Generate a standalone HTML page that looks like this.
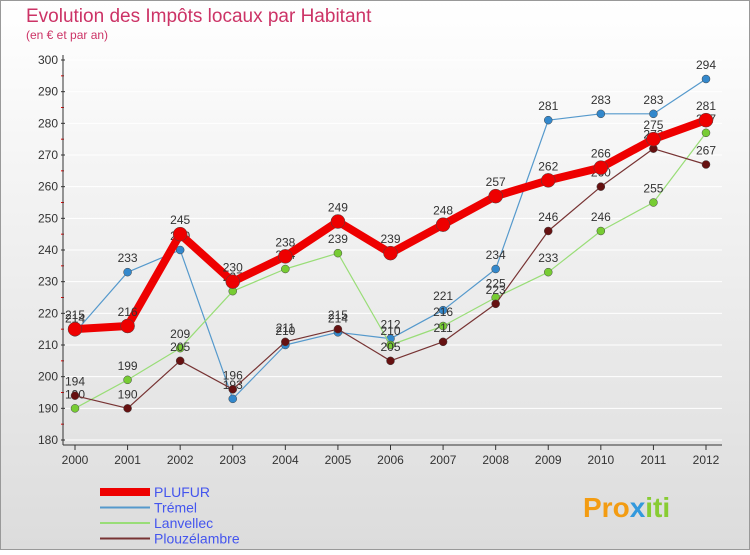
<!DOCTYPE html>
<html><head><meta charset="utf-8"><style>
body{margin:0;width:750px;height:550px;overflow:hidden;font-family:"Liberation Sans",sans-serif}
</style></head><body>
<svg width="750" height="550" xmlns="http://www.w3.org/2000/svg">
<defs><linearGradient id="bg" x1="0" y1="0" x2="0" y2="1"><stop offset="0" stop-color="#ffffff"/><stop offset="1" stop-color="#dcdcdc"/></linearGradient></defs>
<rect x="0.5" y="0.5" width="749" height="549" fill="url(#bg)" stroke="#999"/>
<text x="26" y="22" font-size="19" fill="#cc3366">Evolution des Impôts locaux par Habitant</text>
<text x="26" y="39" font-size="12" fill="#cc3366">(en € et par an)</text>
<g id="axes"></g><g id="series"></g><g id="legend"></g>
<text x="583" y="517" font-size="28" font-weight="bold" fill="#f39c12">Pro<tspan fill="#3399dd">x</tspan><tspan fill="#88cc33">iti</tspan></text>
</svg>
<script>
const years=["2000","2001","2002","2003","2004","2005","2006","2007","2008","2009","2010","2011","2012"];
const yTicks=[180,190,200,210,220,230,240,250,260,270,280,290,300];
const plufur=[215,216,245,230,238,249,239,248,257,262,266,275,281];
const tremel=[214,233,240,193,210,214,212,221,234,281,283,283,294];
const lanvellec=[190,199,209,227,234,239,210,216,225,233,246,255,277];
const plouz=[194,190,205,196,211,215,205,211,223,246,260,272,267];
const NS="http://www.w3.org/2000/svg";
const X=i=>75+i*(706-75)/12, Y=v=>440-(v-180)*(380/120);
function mk(t,a,p){const e=document.createElementNS(NS,t);for(const k in a)e.setAttribute(k,a[k]);p.appendChild(e);return e;}
const ax=document.getElementById('axes');
yTicks.forEach(v=>{const l=mk('line',{x1:63,x2:722,y1:Y(v),y2:Y(v),stroke:'#fff','stroke-width':1},ax);
const t=mk('text',{x:58,y:Y(v)+4,'font-size':12,'text-anchor':'end',fill:'#333'},ax);t.textContent=v;
mk('line',{x1:61,x2:65,y1:Y(v),y2:Y(v),stroke:'#333'},ax);
if(v<300)mk('line',{x1:61,x2:64,y1:Y(v+5),y2:Y(v+5),stroke:'#e00'},ax);});
mk('line',{x1:63,x2:63,y1:55,y2:445,stroke:'#333'},ax);
mk('line',{x1:63,x2:722,y1:445,y2:445,stroke:'#333'},ax);
years.forEach((y,i)=>{mk('line',{x1:X(i),x2:X(i),y1:445,y2:450,stroke:'#333'},ax);const t=mk('text',{x:X(i),y:464,'font-size':12,'text-anchor':'middle',fill:'#333'},ax);t.textContent=y;});
const sg=document.getElementById('series');
function series(name,data,col,w,r,dot){const g=mk('g',{},sg);
const p=mk('polyline',{points:data.map((v,i)=>X(i)+','+Y(v)).join(' '),fill:'none',stroke:col,'stroke-width':w,'stroke-linejoin':'round'},g);
data.forEach((v,i)=>{const c=mk('circle',{cx:X(i),cy:Y(v),r:r,fill:dot,stroke:'#444','stroke-width':0.5},g);
const t=mk('text',{x:X(i),y:Y(v)-10,'font-size':12,'text-anchor':'middle',fill:'#333'},g);t.textContent=v;});}
series('tremel',tremel,'#5599cc',1.2,4,'#3388cc');
series('lanvellec',lanvellec,'#99dd77',1.2,4,'#77cc33');
series('plouzelambre',plouz,'#773333',1.2,4,'#661111');
series('plufur',plufur,'#ee0000',8,7,'#ee0000');
const lg=document.getElementById('legend');
[['PLUFUR','#ee0000',8],['Trémel','#5599cc',2],['Lanvellec','#99dd77',2],['Plouzélambre','#773333',2]].forEach((d,i)=>{const yy=492+i*15.5;
const g=mk('g',{},lg);
mk('line',{x1:100,x2:150,y1:yy,y2:yy,stroke:d[1],'stroke-width':d[2]},g);
const t=mk('text',{x:154,y:yy+5,'font-size':14,fill:'#4455ee'},g);t.textContent=d[0];});
</script></body></html>
